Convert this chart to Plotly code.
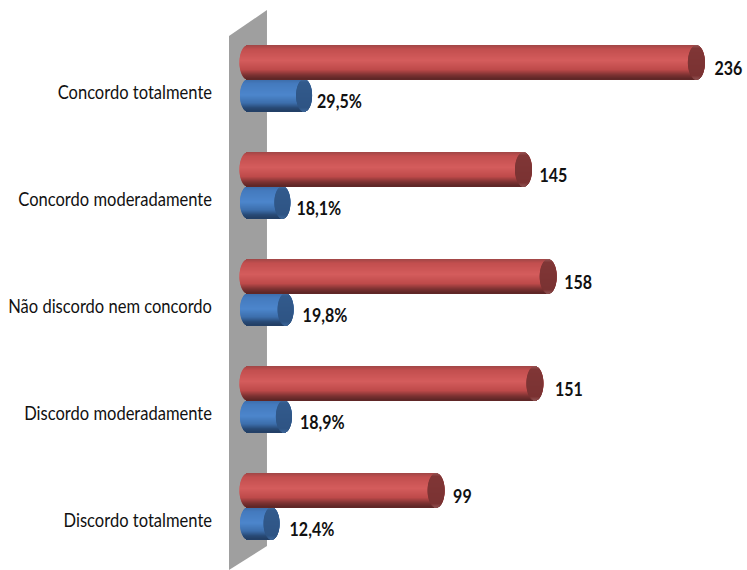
import math
import plotly.graph_objects as go

categories = ["Concordo totalmente", "Concordo moderadamente", "Não discordo nem concordo",
              "Discordo moderadamente", "Discordo totalmente"]
counts = [236, 145, 158, 151, 99]
percents = [29.5, 18.1, 19.8, 18.9, 12.4]
percent_labels = ["29,5%", "18,1%", "19,8%", "18,9%", "12,4%"]

W, H = 747, 570
LEFT = 216
X0_PX, PX_PER_X = 248.0, 1.9
Y0_PX, PX_PER_Y = 79.0, 107.0


def xv(px):
    return (px - X0_PX) / PX_PER_X


def yv(px):
    return (px - Y0_PX) / PX_PER_Y


def mix(stops, t):
    for (a, ca), (b, cb) in zip(stops, stops[1:]):
        if t <= b:
            f = (t - a) / (b - a)
            return "rgb(%d,%d,%d)" % tuple(round(p + (q - p) * f) for p, q in zip(ca, cb))
    return "rgb(%d,%d,%d)" % stops[-1][1]


RED_BODY = [(0, (160, 70, 70)), (.12, (194, 78, 78)), (.45, (212, 92, 92)), (.72, (190, 74, 74)),
            (.88, (125, 50, 50)), (1, (92, 38, 38))]
BLUE_BODY = [(0, (60, 108, 168)), (.15, (68, 122, 190)), (.5, (76, 134, 204)), (.75, (60, 110, 172)),
             (.9, (40, 74, 118)), (1, (34, 62, 100))]
RED_CAP = [(0, (150, 84, 84)), (.1, (128, 54, 54)), (.9, (122, 50, 50)), (1, (140, 78, 78))]
BLUE_CAP = [(0, (70, 110, 160)), (.1, (50, 90, 140)), (.9, (46, 84, 132)), (1, (60, 100, 150))]


def cylinder(values, top_px, height_px, half_cap_px, body, cap):
    xs, ys, bases, offsets, widths, colors = [], [], [], [], [], []
    n = int(height_px)
    dy = 1.0 / PX_PER_Y
    cap_x = half_cap_px / PX_PER_X
    for part in ("body", "cap"):
        for i, v in enumerate(values):
            for k in range(n):
                t = (k + .5) / n
                s = math.sqrt(max(0.0, 1 - (2 * t - 1) ** 2)) * cap_x
                if part == "body":
                    bases.append(-s)
                    xs.append(v + s + s)
                    colors.append(mix(body, t))
                else:
                    bases.append(v - s)
                    xs.append(2 * s)
                    colors.append(mix(cap, t))
                ys.append(i)
                offsets.append((top_px - Y0_PX + k) * dy)
                widths.append(dy * 1.02)
    return go.Bar(x=xs, y=ys, base=bases, offset=offsets, width=widths, orientation="h",
                  marker=dict(color=colors, line=dict(width=0)), hoverinfo="skip", showlegend=False)


fig = go.Figure()
fig.add_trace(cylinder(percents, 79, 32, 8, BLUE_BODY, BLUE_CAP))
fig.add_trace(cylinder(counts, 45, 34, 8.5, RED_BODY, RED_CAP))

count_nudge_px = [18, 16, 16, 20, 17]
percent_nudge_px = [13, 14, 17, 16, 18]
LABEL_FONT = dict(family="Lato", size=18, color="#111111", weight="bold")
fig.add_trace(go.Scatter(
    x=[v + n / PX_PER_X for v, n in zip(counts, count_nudge_px)],
    y=[i + (70 - Y0_PX) / PX_PER_Y for i in range(5)],
    text=[str(v) for v in counts], mode="text", textposition="middle right",
    textfont=LABEL_FONT, hoverinfo="skip", showlegend=False, cliponaxis=False))
fig.add_trace(go.Scatter(
    x=[v + n / PX_PER_X for v, n in zip(percents, percent_nudge_px)],
    y=[i + (103 - Y0_PX) / PX_PER_Y for i in range(5)],
    text=percent_labels, mode="text", textposition="middle right",
    textfont=LABEL_FONT, hoverinfo="skip", showlegend=False, cliponaxis=False))


def px_x(p):
    return (p - LEFT) / (W - LEFT)


def px_y(p):
    return 1 - p / H


wall = [(229, 36), (267, 10), (267, 546), (229, 570)]
path = "M " + " L ".join(f"{px_x(a):.4f},{px_y(b):.4f}" for a, b in wall) + " Z"

fig.update_layout(
    width=W, height=H, autosize=False,
    margin=dict(l=LEFT, r=0, t=0, b=0, autoexpand=False),
    paper_bgcolor="white", plot_bgcolor="white",
    barmode="overlay", showlegend=False,
    font=dict(family="Lato", size=19, color="#111111"),
    shapes=[dict(type="path", path=path, xref="paper", yref="paper",
                 fillcolor="#9f9f9f", line=dict(width=0), layer="below")],
    xaxis=dict(range=[xv(LEFT), xv(W)], visible=False, fixedrange=True),
    yaxis=dict(range=[yv(H), yv(0)], tickmode="array", automargin=False,
               tickvals=[i + 13 / PX_PER_Y for i in range(5)], ticktext=categories,
               showgrid=False, zeroline=False, showline=False, ticks="",
               ticklabelstandoff=3,
               tickfont=dict(family="Lato", size=19, color="#111111"),
               fixedrange=True),
)
squeeze = """
document.documentElement.style.margin='0';document.body.style.margin='0';document.body.style.overflow='hidden';
function sq(sel,f){document.querySelectorAll(sel).forEach(function(t){
  t.setAttribute('textLength',t.getComputedTextLength()*f);t.setAttribute('lengthAdjust','spacingAndGlyphs');});}
sq('.ytick text',0.87);sq('.textpoint text',0.89);
"""
fig.write_html("out.html", config=dict(displayModeBar=False), post_script=squeeze)
